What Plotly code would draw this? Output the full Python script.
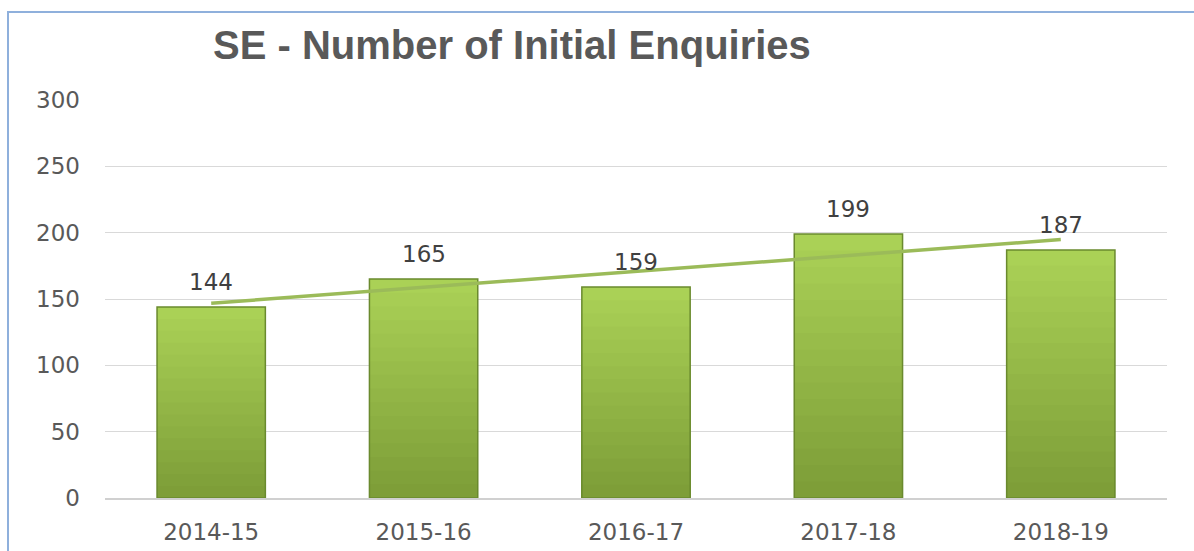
import numpy as np
import plotly.graph_objects as go

# chart data
years = ["2014-15", "2015-16", "2016-17", "2017-18", "2018-19"]
enquiries = [144, 165, 159, 199, 187]
y_ticks = [0, 50, 100, 150, 200, 250, 300]

# linear trendline fitted to the data
idx = np.arange(1, len(enquiries) + 1)
slope, intercept = np.polyfit(idx, enquiries, 1)
trend = slope * idx + intercept

fig = go.Figure()

# fake a vertical gradient: stack shorter, darker bars on top of each other
top_rgb = np.array([170, 209, 86])
bot_rgb = np.array([126, 158, 56])
steps = 16
for i in range(steps):
    frac = 1 - i / steps
    c = top_rgb + (bot_rgb - top_rgb) * (i / (steps - 1))
    fig.add_trace(go.Bar(
        x=years,
        y=[v * frac for v in enquiries],
        width=0.51,
        marker=dict(color="rgb(%d,%d,%d)" % tuple(c.astype(int)), line=dict(width=0)),
        hoverinfo="skip",
    ))

# outline
fig.add_trace(go.Bar(
    x=years,
    y=enquiries,
    width=0.51,
    marker=dict(color="rgba(0,0,0,0)", line=dict(color="#6a8a2e", width=1.5)),
))

# trendline
fig.add_trace(go.Scatter(
    x=years,
    y=trend,
    mode="lines",
    line=dict(color="#9bbb59", width=3.5),
    hoverinfo="skip",
))

# value labels above the bars
for yr, v in zip(years, enquiries):
    fig.add_annotation(
        x=yr, y=v, text=str(v), showarrow=False,
        yanchor="bottom", yshift=10,
        font=dict(family="DejaVu Sans", size=23, color="#404040"),
    )

fig.update_layout(
    width=1194,
    height=551,
    barmode="overlay",
    showlegend=False,
    plot_bgcolor="white",
    paper_bgcolor="white",
    margin=dict(l=105, r=27, t=100, b=53, autoexpand=False),
    title=dict(
        text="<b>SE - Number of Initial Enquiries</b>",
        font=dict(family="Liberation Sans", size=40, color="#595959"),
        x=213 / 1194, xanchor="left", xref="container",
        y=1 - 45 / 551, yanchor="middle", yref="container",
    ),
)

fig.update_yaxes(
    range=[0, 300],
    tickvals=y_ticks,
    showgrid=True,
    gridcolor="#d9d9d9",
    gridwidth=1,
    zeroline=False,
    showline=False,
    automargin=False,
    tickfont=dict(family="DejaVu Sans", size=23, color="#595959"),
    ticklabelstandoff=24,
)

fig.update_xaxes(
    showline=True,
    linecolor="#d0d0d0",
    linewidth=2,
    showgrid=False,
    automargin=False,
    tickfont=dict(family="DejaVu Sans", size=23, color="#595959"),
    ticklabelstandoff=12,
)

# light blue frame of the chart box
fig.add_shape(
    type="rect", xref="paper", yref="paper",
    x0=(8 - 105) / 1062, x1=(1210 - 105) / 1062,
    y0=(498 - 570) / 398, y1=(498 - 12) / 398,
    line=dict(color="#8fb0dc", width=2),
    fillcolor="rgba(0,0,0,0)",
    layer="below",
)

fig.write_html(
    "out.html",
    config={"displayModeBar": False},
    post_script="document.body.style.margin='0';",
)
